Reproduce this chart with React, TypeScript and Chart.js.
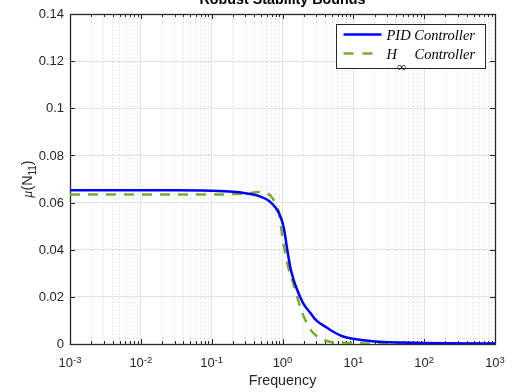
import React, { useEffect, useRef } from 'react';
import { Chart, registerables } from 'chart.js';

Chart.register(...registerables);

// ---- data ----
const pidFreq = [0.001, 0.01, 0.03, 0.1, 0.2, 0.3, 0.4, 0.5, 0.6, 0.7, 0.8, 0.9, 1.0, 1.05, 1.1, 1.16, 1.2, 1.3, 1.45, 1.6, 1.8, 2.0, 2.5, 3.0, 4.0, 5.0, 7.0, 10, 20, 50, 100, 1000];
const pidMu = [0.0652, 0.0652, 0.0652, 0.0650, 0.0646, 0.0640, 0.0633, 0.0624, 0.0613, 0.0598, 0.0578, 0.0553, 0.0515, 0.0487, 0.0452, 0.0405, 0.0378, 0.0320, 0.0268, 0.0232, 0.0195, 0.0168, 0.0130, 0.0100, 0.0074, 0.0055, 0.0033, 0.0022, 0.0011, 0.0006, 0.0004, 0.0002];

const hinfFreq = [0.001, 0.1, 0.2, 0.3, 0.4, 0.5, 0.6, 0.7, 0.8, 0.9, 1.0, 1.05, 1.1, 1.2, 1.4, 1.6, 1.9, 2.2, 2.5, 3.0, 3.5, 4.0, 5.0, 7.0, 10, 100, 1000];
const hinfMu = [0.0634, 0.0634, 0.0636, 0.0639, 0.0643, 0.0645, 0.0640, 0.0624, 0.0595, 0.0550, 0.0452, 0.0415, 0.0382, 0.0327, 0.0262, 0.0203, 0.0132, 0.0090, 0.0060, 0.0035, 0.0023, 0.0015, 0.0008, 0.0004, 0.0003, 0.0002, 0.0002];

const yTickValues = [0, 0.02, 0.04, 0.06, 0.08, 0.1, 0.12, 0.14];
const yTickLabels = ['0', '0.02', '0.04', '0.06', '0.08', '0.1', '0.12', '0.14'];
const xDecadeExponents = [-3, -2, -1, 0, 1, 2, 3];
const xMinorMultipliers = [2, 3, 4, 5, 6, 7, 8, 9];

const titleText = 'Robust Stability Bounds';
const xLabelText = 'Frequency';
const legendPID = 'PID Controller';
const legendHinfMain = 'H';
const legendHinfSub = '\u221E';
const legendHinfRest = 'Controller';

const BLUE = '#0000ff';
const GREEN = '#77ac30';
const AXIS = '#262626';
const SANS = '"Liberation Sans", Arial, Helvetica, sans-serif';
const SERIF = '"Liberation Serif", "Times New Roman", serif';

const isMajor = (v: number) => {
  const l = Math.log10(v);
  return Math.abs(l - Math.round(l)) < 1e-6;
};

const decorPlugin = {
  id: 'decor',
  beforeDatasetsDraw(chart: any) {
    const { ctx, chartArea: a, scales } = chart;
    const xs = scales.x;
    const ys = scales.y;
    ctx.save();
    ctx.strokeStyle = AXIS;
    ctx.lineWidth = 1;
    ctx.beginPath();
    yTickValues.forEach((v) => {
      const py = Math.round(ys.getPixelForValue(v)) + 0.5;
      ctx.moveTo(a.left, py);
      ctx.lineTo(a.left + 5, py);
      ctx.moveTo(a.right, py);
      ctx.lineTo(a.right - 5, py);
    });
    xDecadeExponents.forEach((e) => {
      const px = Math.round(xs.getPixelForValue(Math.pow(10, e))) + 0.5;
      ctx.moveTo(px, a.bottom);
      ctx.lineTo(px, a.bottom - 5);
      ctx.moveTo(px, a.top);
      ctx.lineTo(px, a.top + 5);
      if (e < 3) {
        xMinorMultipliers.forEach((m) => {
          const qx = Math.round(xs.getPixelForValue(m * Math.pow(10, e))) + 0.5;
          ctx.moveTo(qx, a.bottom);
          ctx.lineTo(qx, a.bottom - 3);
          ctx.moveTo(qx, a.top);
          ctx.lineTo(qx, a.top + 3);
        });
      }
    });
    ctx.stroke();
    ctx.lineWidth = 1.3;
    ctx.strokeRect(Math.round(a.left) + 0.5, Math.round(a.top) + 0.5, Math.round(a.right - a.left), Math.round(a.bottom - a.top));
    ctx.restore();
  },
  afterDraw(chart: any) {
    const { ctx, chartArea: a, scales } = chart;
    const xs = scales.x;
    const ys = scales.y;
    ctx.save();
    ctx.fillStyle = AXIS;

    ctx.font = `13px ${SANS}`;
    ctx.textAlign = 'right';
    ctx.textBaseline = 'middle';
    yTickValues.forEach((v, i) => {
      ctx.fillText(yTickLabels[i], a.left - 6, ys.getPixelForValue(v) + 0.5);
    });

    ctx.textAlign = 'left';
    ctx.textBaseline = 'alphabetic';
    xDecadeExponents.forEach((e) => {
      const px = xs.getPixelForValue(Math.pow(10, e));
      ctx.font = `13px ${SANS}`;
      const wb = ctx.measureText('10').width;
      ctx.font = `9.5px ${SANS}`;
      const es = String(e);
      const we = ctx.measureText(es).width;
      const x0 = px - (wb + we) / 2;
      ctx.font = `13px ${SANS}`;
      ctx.fillText('10', x0, a.bottom + 23);
      ctx.font = `9.5px ${SANS}`;
      ctx.fillText(es, x0 + wb, a.bottom + 19);
    });

    ctx.font = `14.3px ${SANS}`;
    ctx.textAlign = 'center';
    ctx.fillText(xLabelText, (a.left + a.right) / 2, a.bottom + 41);

    ctx.font = `bold 14.3px ${SANS}`;
    ctx.fillStyle = '#000';
    ctx.fillText(titleText, (a.left + a.right) / 2, 3.5);

    ctx.fillStyle = AXIS;
    ctx.save();
    ctx.translate(32, (a.top + a.bottom) / 2);
    ctx.rotate(-Math.PI / 2);
    const parts = [
      { t: '\u03BC', f: `italic 14px ${SERIF}`, dy: 0 },
      { t: '(N', f: `14.3px ${SANS}`, dy: 0 },
      { t: '11', f: `10px ${SANS}`, dy: 4 },
      { t: ')', f: `14.3px ${SANS}`, dy: 0 },
    ];
    let total = 0;
    parts.forEach((p) => {
      ctx.font = p.f;
      total += ctx.measureText(p.t).width;
    });
    let cx = -total / 2;
    ctx.textAlign = 'left';
    parts.forEach((p) => {
      ctx.font = p.f;
      ctx.fillText(p.t, cx, p.dy);
      cx += ctx.measureText(p.t).width;
    });
    ctx.restore();

    const bw = 149;
    const bh = 44;
    const bx = Math.round(a.right - 10 - bw) + 0.5;
    const by = Math.round(a.top + 10) + 0.5;
    ctx.fillStyle = '#ffffff';
    ctx.fillRect(bx, by, bw, bh);
    ctx.strokeStyle = AXIS;
    ctx.lineWidth = 1;
    ctx.strokeRect(bx, by, bw, bh);

    const r1 = by + 10;
    const r2 = by + 29;
    ctx.lineWidth = 2.5;
    ctx.strokeStyle = BLUE;
    ctx.beginPath();
    ctx.moveTo(bx + 7, r1);
    ctx.lineTo(bx + 45, r1);
    ctx.stroke();
    ctx.strokeStyle = GREEN;
    ctx.setLineDash([10, 9]);
    ctx.beginPath();
    ctx.moveTo(bx + 7, r2);
    ctx.lineTo(bx + 45, r2);
    ctx.stroke();
    ctx.setLineDash([]);

    ctx.fillStyle = '#000';
    ctx.textAlign = 'left';
    ctx.textBaseline = 'alphabetic';
    ctx.font = `italic 14.5px ${SERIF}`;
    ctx.fillText(legendPID, bx + 50, r1 + 5);
    ctx.fillText(legendHinfMain, bx + 50, r2 + 5);
    const wh = ctx.measureText(legendHinfMain).width;
    ctx.fillText(legendHinfRest, bx + 78, r2 + 5);
    ctx.font = `13px ${SERIF}`;
    ctx.fillText(legendHinfSub, bx + 50 + wh, r2 + 17);

    ctx.restore();
  },
};

export default function App() {
  const ref = useRef<HTMLCanvasElement | null>(null);
  useEffect(() => {
    if (!ref.current) return;
    const chart = new Chart(ref.current, {
      type: 'line',
      data: {
        datasets: [
          {
            label: legendPID,
            data: pidFreq.map((f, i) => ({ x: f, y: pidMu[i] })),
            borderColor: BLUE,
            borderWidth: 2.5,
            pointRadius: 0,
            cubicInterpolationMode: 'monotone',
            fill: false,
          },
          {
            label: 'H\u221E ' + legendHinfRest,
            data: hinfFreq.map((f, i) => ({ x: f, y: hinfMu[i] })),
            borderColor: GREEN,
            borderWidth: 2.5,
            borderDash: [10, 8],
            pointRadius: 0,
            cubicInterpolationMode: 'monotone',
            fill: false,
          },
        ],
      },
      options: {
        responsive: false,
        animation: false,
        events: [],
        layout: { padding: { left: 70, right: 23, top: 14, bottom: 48 } },
        plugins: { legend: { display: false }, title: { display: false }, tooltip: { enabled: false } },
        scales: {
          x: {
            type: 'logarithmic',
            min: 0.001,
            max: 1000,
            afterBuildTicks: (scale: any) => {
              const t: any[] = [];
              xDecadeExponents.forEach((e) => {
                t.push({ value: Math.pow(10, e) });
                if (e < 3) xMinorMultipliers.forEach((m) => t.push({ value: m * Math.pow(10, e) }));
              });
              scale.ticks = t;
            },
            afterFit: (scale: any) => {
              scale.height = 0;
            },
            ticks: { display: false, autoSkip: false },
            grid: {
              drawTicks: false,
              color: (c: any) => (c.tick && isMajor(c.tick.value) ? '#e3e3e3' : '#d2d2d2'),
              lineWidth: 1,
            },
            border: {
              display: false,
              dash: (c: any) => (c.tick && isMajor(c.tick.value) ? [] : [1, 3]),
            },
          },
          y: {
            type: 'linear',
            min: 0,
            max: 0.14,
            afterBuildTicks: (scale: any) => {
              scale.ticks = yTickValues.map((v) => ({ value: v }));
            },
            afterFit: (scale: any) => {
              scale.width = 0;
            },
            ticks: { display: false },
            grid: { drawTicks: false, color: '#e3e3e3', lineWidth: 1 },
            border: { display: false },
          },
        },
      } as any,
      plugins: [decorPlugin],
    });
    return () => chart.destroy();
  }, []);
  return (
    <div style={{ position: 'fixed', left: 0, top: 0, width: 518, height: 392, background: '#fff' }}>
      <canvas ref={ref} width={518} height={392} style={{ display: 'block' }} />
    </div>
  );
}
